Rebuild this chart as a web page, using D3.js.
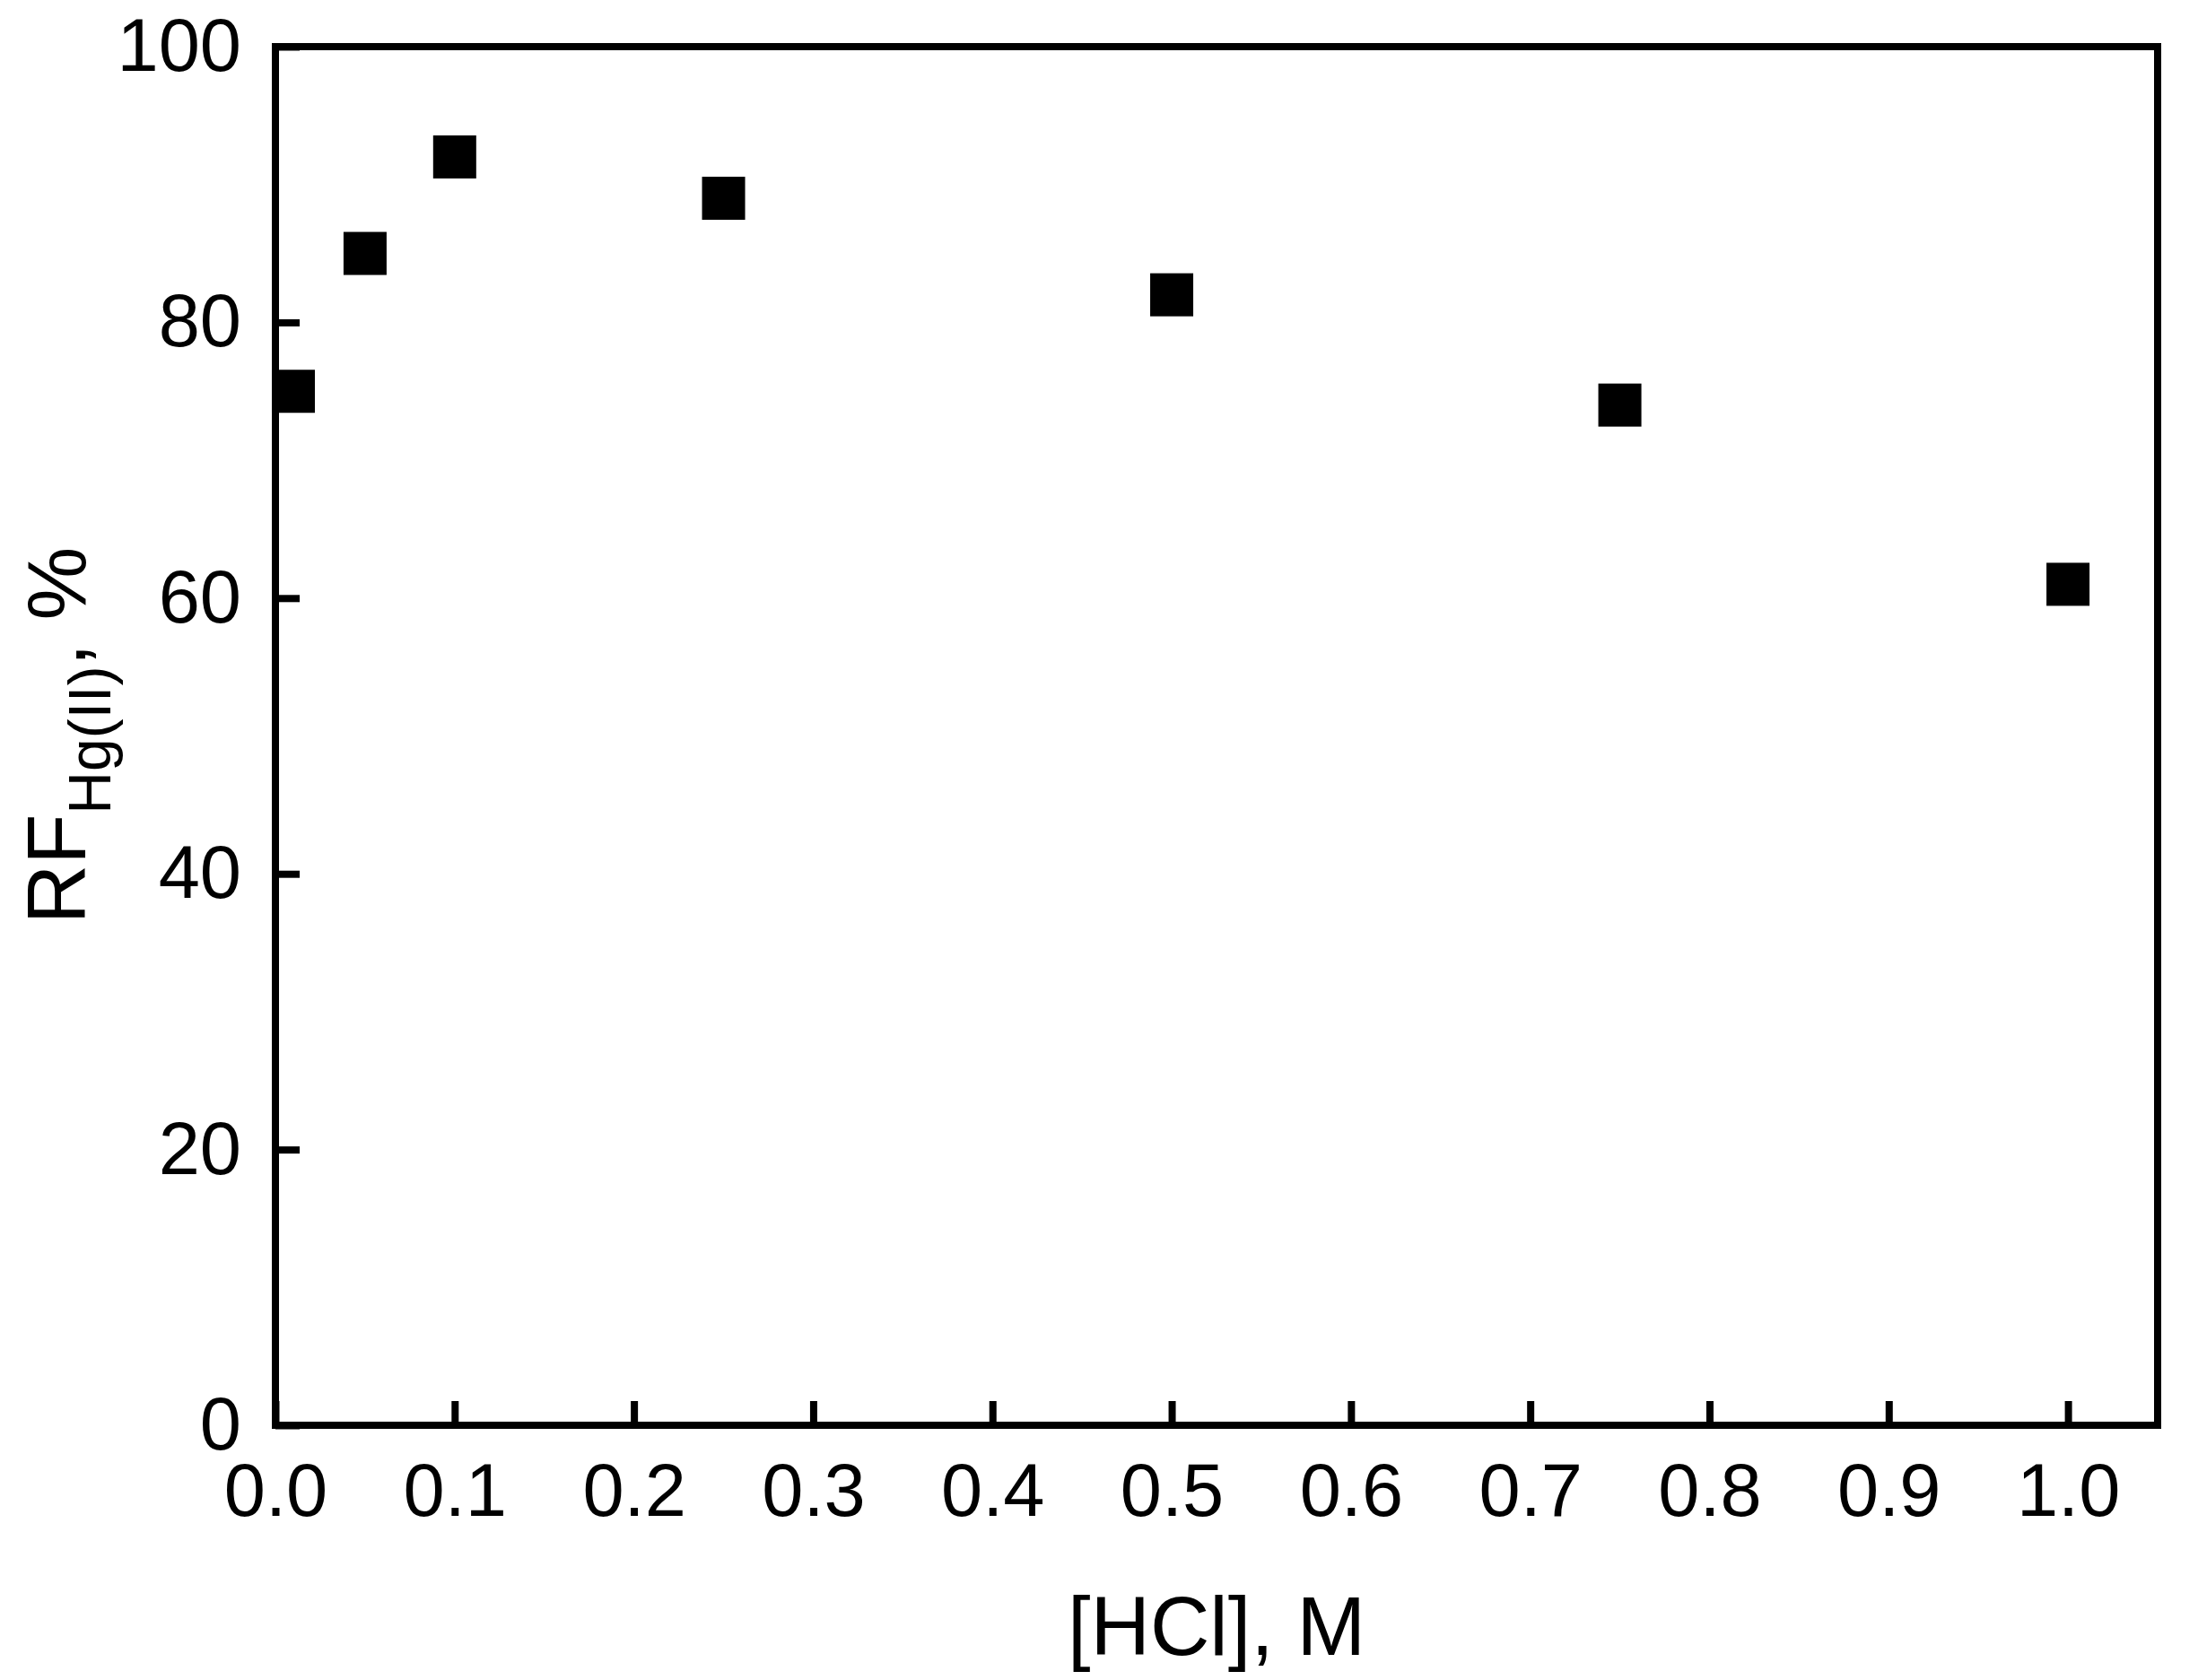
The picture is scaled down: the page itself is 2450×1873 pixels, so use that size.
<!DOCTYPE html><html><head><script src="https://cdn.jsdelivr.net/npm/d3@7"></script>
<style>body{margin:0;background:#fff}text{font-family:"Liberation Sans",Arial,sans-serif}</style></head><body>
<svg id="c" width="2450" height="1873"></svg>
<script>
const hcl=[0.01,0.05,0.1,0.25,0.5,0.75,1.0];
const rf=[75,85,92,89,82,74,61];
const xTicks=[0,0.1,0.2,0.3,0.4,0.5,0.6,0.7,0.8,0.9,1.0];
const yTicks=[0,20,40,60,80,100];
const svg=d3.select("#c");
const L=307,R=2405,T=52,B=1589;
const x=d3.scaleLinear().domain([0,1.05]).range([L,R]);
const y=d3.scaleLinear().domain([0,100]).range([B,T]);
const g=svg.append("g");
g.append("g").attr("transform",`translate(0,${B})`).call(d3.axisBottom(x).tickValues(xTicks).tickFormat(d3.format(".1f")).tickSizeInner(-27).tickSizeOuter(0).tickPadding(42));
g.append("g").attr("transform",`translate(${L},0)`).call(d3.axisLeft(y).tickValues(yTicks).tickSizeInner(-27).tickSizeOuter(0).tickPadding(38));
svg.selectAll(".domain").remove();
svg.selectAll(".tick line").attr("stroke","#000").attr("stroke-width",8);
svg.selectAll(".tick text").attr("font-size",83).attr("fill","#000").attr("font-family","Liberation Sans, Arial, sans-serif");
svg.append("rect").attr("x",L).attr("y",T).attr("width",R-L).attr("height",B-T).attr("fill","none").attr("stroke","#000").attr("stroke-width",8);
const s=48;
svg.selectAll(".pt").data(hcl).enter().append("rect").attr("x",d=>x(d)-s/2).attr("y",(d,i)=>y(rf[i])-s/2).attr("width",s).attr("height",s).attr("fill","#000");
svg.append("text").attr("x",(L+R)/2).attr("y",1845).attr("text-anchor","middle").attr("font-size",92).text("[HCl], M");
const yl=svg.append("text").attr("transform","translate(95,820) rotate(-90)").attr("text-anchor","middle").attr("font-size",92);
yl.append("tspan").text("RF");
yl.append("tspan").attr("font-size",66).attr("dy",28).text("Hg(II)");
yl.append("tspan").attr("dy",-28).text(", %");
</script></body></html>
